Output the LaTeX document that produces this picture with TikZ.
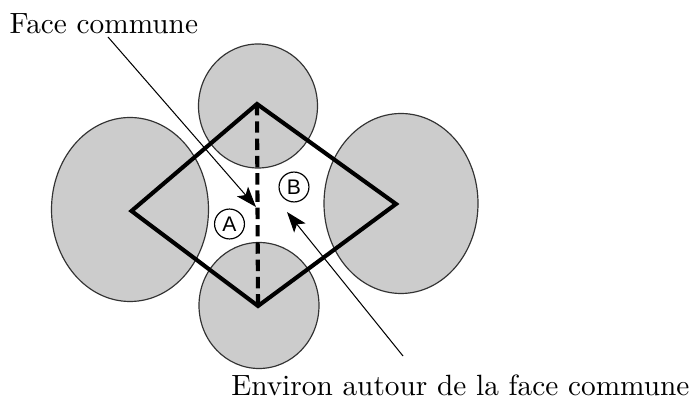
\documentclass[tikz,border=0pt]{standalone}
\usepackage{fontspec}
\usepackage{tikz}
\usetikzlibrary{arrows.meta}
\newfontfamily\lblfont{Liberation Sans}
\definecolor{atomgray}{gray}{0.8}

\begin{document}
\begin{tikzpicture}[x=0.012cm,y=-0.012cm]
        \tikzset{atom/.style={fill=atomgray, draw=black!80, line width=0.4pt}}
        \tikzset{cell/.style={line width=1.4pt, line join=miter}}
        \tikzset{face/.style={line width=1.4pt, dash pattern=on 3.9pt off 2pt}}
        \tikzset{lead/.style={-{Stealth[length=7pt, width=5pt, inset=1.6pt]}, line width=0.35pt}}
        \tikzset{zone/.style={circle, draw, line width=0.4pt, minimum size=10.2pt, inner sep=0pt, font=\lblfont\fontsize{7.2}{8}\selectfont}}
        \useasboundingbox (0,0) rectangle (692,409);

        % corners of the cell
        \coordinate (top) at (257,104);
        \coordinate (right) at (396,204);
        \coordinate (bottom) at (258,306);
        \coordinate (left) at (131.5,211);

        % atoms
        \draw[atom] (130,209.5) ellipse [x radius=78.5, y radius=92];
        \draw[atom] (401,203.5) ellipse [x radius=77, y radius=90];
        \draw[atom] (258,106) ellipse [x radius=59.5, y radius=62];
        \draw[atom] (259,305.5) ellipse [x radius=60, y radius=63];

        % cell and common face
        \draw[cell] (top) -- (right) -- (bottom) -- (left) -- cycle;
        \draw[face] (top) -- (bottom);

        \node[zone] (zoneA) at (229.5,224) {A};
        \node[zone] (zoneB) at (294,187) {B};

        % labels
        \node[anchor=base west, inner sep=0pt] (facelbl) at (9,34) {Face commune};
        \node[anchor=base east, inner sep=0pt] (envlbl) at (690,396) {Environ autour de la face commune};
        \coordinate (facefoot) at (108,37);
        \coordinate (facetip) at (256,207);
        \coordinate (envfoot) at (403,356);
        \coordinate (envtip) at (287,212);
        \draw[lead] (facefoot) -- (facetip);
        \draw[lead] (envfoot) -- (envtip);
\end{tikzpicture}
\end{document}
